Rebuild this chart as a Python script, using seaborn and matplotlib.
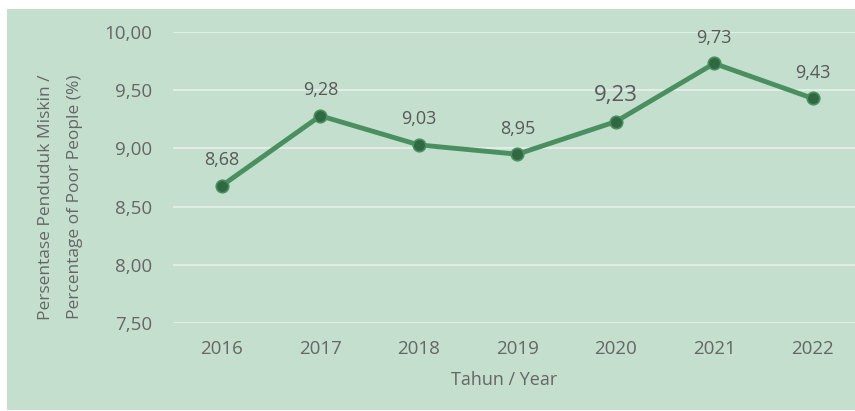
import pandas as pd
import matplotlib.pyplot as plt
import seaborn as sns
from matplotlib.patches import Rectangle

years = [2016, 2017, 2018, 2019, 2020, 2021, 2022]
poverty = [8.68, 9.28, 9.03, 8.95, 9.23, 9.73, 9.43]
y_ticks = [7.50, 8.00, 8.50, 9.00, 9.50, 10.00]

df = pd.DataFrame({'Year': years, 'Poverty': poverty})

bg = '#c4dfcd'
txt = '#666666'

sns.set_style('white')
plt.rcParams['font.family'] = ['Open Sans', 'DejaVu Sans']

fig = plt.figure(figsize=(8.55, 4.11), dpi=100, facecolor='white')
fig.patches.append(Rectangle((7 / 855, 1 / 411), 1, 401 / 411, transform=fig.transFigure,
                             facecolor=bg, edgecolor='none', zorder=-5))
ax = fig.add_axes([173 / 855, 1 - 323 / 411, (855 - 173) / 855, (323 - 32) / 411])
ax.set_zorder(2)
ax.set_facecolor(bg)

sns.lineplot(data=df, x='Year', y='Poverty', ax=ax, color='#4a8f5f', linewidth=3.5,
             marker='o', markersize=9, markerfacecolor='#2f6843', markeredgecolor='#4a8f5f',
             markeredgewidth=1.2, zorder=3)

for x, y in zip(years, poverty):
    size = 16 if x == 2020 else 13
    ax.annotate(f'{y:.2f}'.replace('.', ','), (x, y), xytext=(0, 18.5), textcoords='offset points',
                ha='center', va='center', fontsize=size, color='#595959')

ax.set_xlim(years[0] - 0.497, years[0] + 6.43)
ax.set_ylim(7.5, 10.0)
ax.set_xticks(years)
ax.set_yticks(y_ticks)
ax.set_yticklabels([f'{v:.2f}'.replace('.', ',') for v in y_ticks])
ax.tick_params(axis='both', length=0, labelsize=13.5, labelcolor=txt)
ax.tick_params(axis='y', pad=15)
ax.tick_params(axis='x', pad=12)
ax.grid(axis='y', color='#e9eeea', linewidth=1.2)
ax.set_axisbelow(True)
for s in ax.spines.values():
    s.set_visible(False)
ax.set_xlabel('')
ax.set_ylabel('')

fig.text(46 / 855, 1 - 197 / 411, 'Persentase Penduduk Miskin /',
         rotation=90, ha='center', va='center', fontsize=12.5, color=txt)
fig.text(75 / 855, 1 - 197 / 411, 'Percentage of Poor People (%)',
         rotation=90, ha='center', va='center', fontsize=12.5, color=txt)
fig.text(504 / 855, 1 - 380 / 411, 'Tahun / Year', ha='center', va='center',
         fontsize=13, color=txt)

plt.savefig('out.png', dpi=100)
